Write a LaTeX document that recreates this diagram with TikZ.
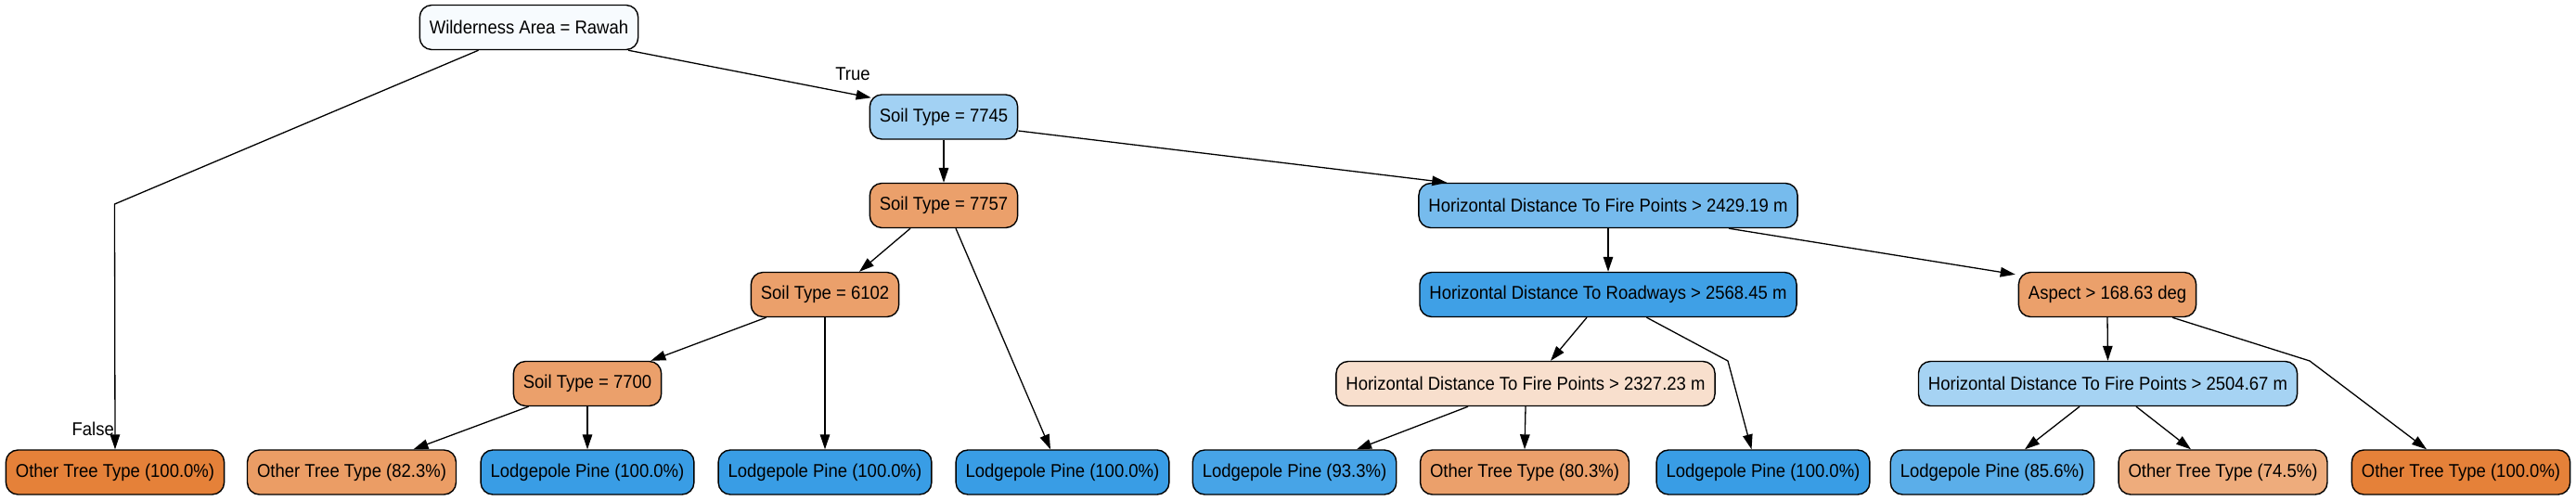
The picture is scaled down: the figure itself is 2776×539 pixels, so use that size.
\documentclass[tikz,border=0pt]{standalone}
\usepackage{fontspec}
\setmainfont{Liberation Sans}[FakeStretch=0.925]
\usetikzlibrary{arrows.meta}
\definecolor{orT}{RGB}{229,129,57}
\definecolor{blT}{RGB}{57,157,229}
\tikzset{
  tnode/.style={draw=black, line width=1.4pt, rounded corners=13pt, minimum height=48pt,
    inner xsep=10.5pt, inner ysep=0pt, font=\fontsize{20}{24}\selectfont, anchor=center},
  edge/.style={line width=1.3pt, -{Triangle[length=16pt,width=10.5pt]}},
  lbl/.style={font=\fontsize{20}{24}\selectfont, inner sep=0pt}
}
\begin{document}
\begin{tikzpicture}[x=1pt,y=-1pt]
\useasboundingbox (0,0) rectangle (2776,539);
% internal nodes
\node[tnode, fill=blT!4!white] (root) at (570,29.5) {Wilderness Area = Rawah};
\node[tnode, fill=blT!47!white] (s7745) at (1017,126) {Soil Type = 7745};
\node[tnode, fill=orT!75!white] (s7757) at (1017,221.5) {Soil Type = 7757};
\node[tnode, fill=blT!69!white] (hdfpA) at (1733,221.5) {Horizontal Distance To Fire Points > 2429.19 m};
\node[tnode, fill=orT!75!white] (s6102) at (889,317.5) {Soil Type = 6102};
\node[tnode, fill=blT!97!white] (hdr) at (1733,317.5) {Horizontal Distance To Roadways > 2568.45 m};
\node[tnode, fill=orT!75!white] (aspect) at (2271,317.5) {Aspect > 168.63 deg};
\node[tnode, fill=orT!75!white] (s7700) at (633,413.5) {Soil Type = 7700};
\node[tnode, fill=orT!25!white] (hdfpB) at (1644,413.5) {Horizontal Distance To Fire Points > 2327.23 m};
\node[tnode, fill=blT!45!white] (hdfpC) at (2271.5,413.5) {Horizontal Distance To Fire Points > 2504.67 m};
% leaves
\node[tnode, fill=orT] (l1) at (124,509) {Other Tree Type (100.0\%)};
\node[tnode, fill=orT!78!white] (l2) at (379,509) {Other Tree Type (82.3\%)};
\node[tnode, fill=blT] (l3) at (633,509) {Lodgepole Pine (100.0\%)};
\node[tnode, fill=blT] (l4) at (889,509) {Lodgepole Pine (100.0\%)};
\node[tnode, fill=blT] (l5) at (1145,509) {Lodgepole Pine (100.0\%)};
\node[tnode, fill=blT!93!white] (l6) at (1395,509) {Lodgepole Pine (93.3\%)};
\node[tnode, fill=orT!75!white] (l7) at (1643,509) {Other Tree Type (80.3\%)};
\node[tnode, fill=blT] (l8) at (1900,509) {Lodgepole Pine (100.0\%)};
\node[tnode, fill=blT!83!white] (l9) at (2147,509) {Lodgepole Pine (85.6\%)};
\node[tnode, fill=orT!66!white] (l10) at (2395.5,509) {Other Tree Type (74.5\%)};
\node[tnode, fill=orT] (l11) at (2652,509) {Other Tree Type (100.0\%)};
% bend points
\coordinate (bF) at (123.5,220);
\coordinate (bR) at (1862,389);
\coordinate (bA) at (2489,389);
% edges
\draw[edge] ([xshift=107pt]root.south) -- ([xshift=2pt,yshift=-4pt]s7745.north west);
\node[lbl] (tlab) at (919,80) {True};
\draw[edge] ([xshift=-54.4pt]root.south) -- (bF) -- (l1.north);
\node[lbl, anchor=east] (flab) at (123,462) {False};
\draw[edge] (s7745.south) -- (s7757.north);
\draw[edge] ([yshift=-15pt]s7745.east) -- ([xshift=31pt]hdfpA.north west);
\draw[edge] ([xshift=-36pt]s7757.south) -- ([xshift=37pt]s6102.north);
\draw[edge] ([xshift=13pt]s7757.south) -- ([xshift=-13pt]l5.north);
\draw[edge] ([xshift=17pt]s6102.south west) -- ([xshift=-12pt]s7700.north east);
\draw[edge] (s6102.south) -- (l4.north);
\draw[edge] ([xshift=17pt]s7700.south west) -- ([xshift=66.5pt]l2.north);
\draw[edge] (s7700.south) -- (l3.north);
\draw[edge] (hdfpA.south) -- (hdr.north);
\draw[edge] ([xshift=130pt]hdfpA.south) -- ([xshift=-3pt,yshift=-3pt]aspect.north west);
\draw[edge] ([xshift=-23pt]hdr.south) -- ([xshift=27pt]hdfpB.north);
\draw[edge] ([xshift=41.5pt]hdr.south) -- (bR) -- ([xshift=-12.5pt]l8.north);
\draw[edge] ([xshift=-62pt]hdfpB.south) -- ([xshift=67pt]l6.north);
\draw[edge] (hdfpB.south) -- (l7.north);
\draw[edge] (aspect.south) -- (hdfpC.north);
\draw[edge] ([xshift=70pt]aspect.south) -- (bA) -- ([xshift=-37pt]l11.north);
\draw[edge] ([xshift=-30.5pt]hdfpC.south) -- ([xshift=35pt]l9.north);
\draw[edge] ([xshift=30.5pt]hdfpC.south) -- ([xshift=-34.5pt]l10.north);
\end{tikzpicture}
\end{document}
